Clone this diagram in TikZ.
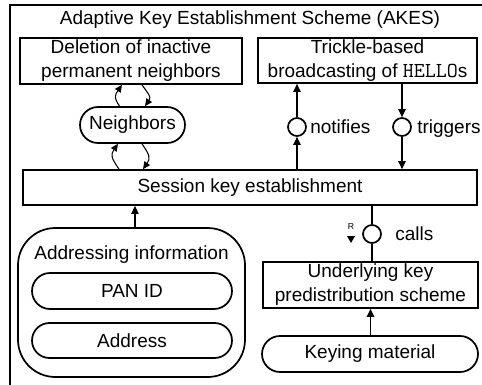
\documentclass[tikz,border=0pt]{standalone}
\usepackage{fontspec}
\setmainfont{Liberation Sans}
\usetikzlibrary{arrows.meta,shapes.misc}
\begin{document}
\begin{tikzpicture}[x=0.75pt,y=0.75pt,
  every node/.style={font=\fontsize{14.25}{18}\selectfont, inner sep=0pt},
  box/.style={draw, line width=1.3pt, align=center},
  pill/.style={draw, line width=1.3pt, rounded rectangle},
  port/.style={draw, circle, line width=1.3pt, minimum size=13.5pt},
  link/.style={line width=0.8pt},
  arr/.style={link, -{Triangle[length=6pt,width=5.5pt]}},
  carr/.style={link, -{Triangle[length=5.5pt,width=5pt]}, looseness=1.35},
]
\useasboundingbox (0,0) rectangle (482,-385);
\clip (0,0) rectangle (482,-385);
% outer frame of the scheme
\draw[line width=1.4pt] (10,-5) rectangle (500,-400);
\node (title) at (250,-20) {Adaptive Key Establishment Scheme (AKES)};

% components
\node[box, minimum width=166.5pt, minimum height=34.5pt] (del) at (131,-61)
  {Deletion of inactive\\permanent neighbors};
\node[box, minimum width=164.25pt, minimum height=33.75pt] (tri) at (367.5,-60.5)
  {Trickle-based\\broadcasting of {\ttfamily\fontsize{16}{18}\selectfont HELLO}s};
\node[pill, minimum width=78.75pt, minimum height=27pt] (nb) at (132.5,-125) {Neighbors};
\node[box, minimum width=340.5pt, minimum height=26.25pt] (ses) at (250,-187.5)
  {Session key establishment};
\node[port] (nt) at (297,-127) {};
\node[port] (tg) at (402,-127) {};
\node[port] (cl) at (372,-234) {};
\node[anchor=base west] (ntl) at (310,-133.5) {notifies};
\node[anchor=base west] (tgl) at (417,-133.5) {triggers};
\node[anchor=base west] (cll) at (395,-240.5) {calls};
\node[box, minimum width=161.25pt, minimum height=34.5pt] (und) at (370.5,-285)
  {Underlying key\\predistribution scheme};
\node[pill, minimum width=162pt, minimum height=27pt] (key) at (370,-354) {Keying material};

% addressing information group
\node[draw, line width=1.3pt, rounded corners=28pt, minimum width=170.25pt,
  minimum height=111.75pt] (adr) at (131.5,-302.5) {};
\node (adrl) at (131.5,-255) {Addressing information};
\node[pill, minimum width=150pt, minimum height=27pt] (pan) at (132,-291) {PAN ID};
\node[pill, minimum width=150pt, minimum height=26.25pt] (ads) at (132,-340.5) {Address};

% required-interface marker beside the call port
\node[font=\fontsize{6.5}{7}\selectfont] (rmark) at (351,-227) {R};
\fill (347,-236) -- (355,-236) -- (351,-243) -- cycle;

% straight connectors
\draw[arr] (ses.north -| nt) -- (nt.south);
\draw[arr] (nt.north) -- (tri.south -| nt);
\draw[arr] (tri.south -| tg) -- (tg.north);
\draw[arr] (tg.south) -- (ses.north -| tg);
\draw[link] (ses.south -| cl) -- (cl.north);
\draw[link] (cl.south) -- (und.north -| cl);
\draw[arr] (key.north -| und) -- (und.south);
\coordinate (adrtop) at ([xshift=2.6pt]adr.north);
\draw[arr] (adrtop) -- (adrtop |- ses.south);

% curved exchanges around the neighbor table
\coordinate (sesnb) at (ses.north -| nb);
\draw[carr] ([xshift=-9.75pt]nb.north) to[out=125,in=-125] ([xshift=-6.75pt]del.south);
\draw[carr] ([xshift=8.25pt]del.south) to[out=-55,in=55] ([xshift=9.4pt]nb.north);
\draw[carr] ([xshift=-10.1pt]sesnb) to[out=125,in=-125] ([xshift=-10.9pt]nb.south);
\draw[carr] ([xshift=7.1pt]nb.south) to[out=-55,in=55] ([xshift=7.9pt]sesnb);
\end{tikzpicture}
\end{document}
